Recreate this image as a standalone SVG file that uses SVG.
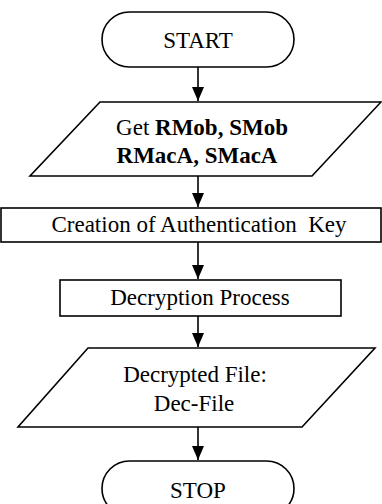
<svg xmlns="http://www.w3.org/2000/svg" width="382" height="504" viewBox="0 0 382 504">
  <style>
    .shape { fill: #ffffff; stroke: #000000; stroke-width: 1.6; }
    .label { font-family: 'Times New Roman', Times, 'Liberation Serif', Tinos, 'DejaVu Serif', serif; font-size: 23px; fill: #000000; text-anchor: middle; }
    .b { font-weight: bold; }
    .flow { stroke: #000000; stroke-width: 1.6; fill: none; marker-end: url(#arrow); }
  </style>
  <defs>
    <marker id="arrow" markerWidth="14" markerHeight="12" refX="14" refY="6" orient="auto" markerUnits="userSpaceOnUse">
      <path d="M0,0 L14,6 L0,12 Z" fill="#000000"/>
    </marker>
  </defs>

  <rect width="382" height="504" fill="#ffffff"/>

  <!-- connectors -->
  <g id="connectors">
    <line class="flow" x1="198" y1="67" x2="198" y2="101"/>
    <line class="flow" x1="198" y1="176" x2="198" y2="207"/>
    <line class="flow" x1="198" y1="242" x2="198" y2="279"/>
    <line class="flow" x1="198" y1="316" x2="198" y2="347"/>
    <line class="flow" x1="198" y1="427" x2="198" y2="460"/>
  </g>

  <g id="start">
    <rect class="shape" x="102" y="12" width="192" height="55" rx="27.5" ry="27.5"/>
    <text class="label" x="198" y="48">START</text>
  </g>

  <g id="get-input">
    <polygon class="shape" points="100,102 381,102 312,176 30,176"/>
    <text class="label" x="202" y="135">Get <tspan class="b">RMob, SMob</tspan></text>
    <text class="label b" x="197" y="163">RMacA, SMacA</text>
  </g>

  <g id="create-key">
    <rect class="shape" x="1" y="208" width="380" height="34"/>
    <text class="label" x="199" y="232" xml:space="preserve">Creation of Authentication  Key</text>
  </g>

  <g id="decrypt">
    <rect class="shape" x="60" y="280" width="281" height="36"/>
    <text class="label" x="200" y="305">Decryption Process</text>
  </g>

  <g id="output-file">
    <polygon class="shape" points="88,348 375,348 302,427 18,427"/>
    <text class="label" x="195" y="382">Decrypted File:</text>
    <text class="label" x="194" y="411">Dec-File</text>
  </g>

  <g id="stop">
    <rect class="shape" x="102" y="461" width="192" height="55" rx="27.5" ry="27.5"/>
    <text class="label" x="198" y="498">STOP</text>
  </g>
</svg>
